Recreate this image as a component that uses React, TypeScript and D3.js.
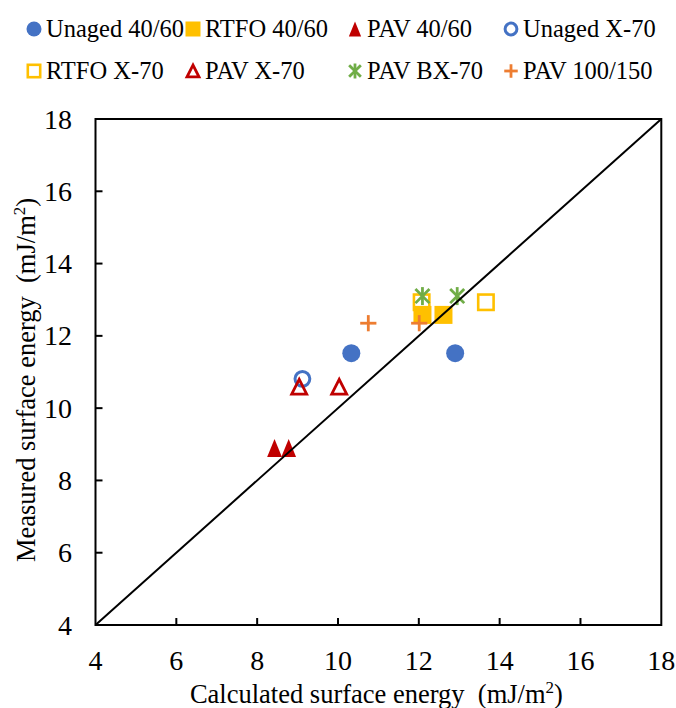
import React from "react";
import * as d3 from "d3";

const seriesNames = [
  "Unaged 40/60",
  "RTFO 40/60",
  "PAV 40/60",
  "Unaged X-70",
  "RTFO X-70",
  "PAV X-70",
  "PAV BX-70",
  "PAV 100/150",
];
const seriesColors = ["#4472C4", "#FFC000", "#C00000", "#4472C4", "#FFC000", "#C00000", "#70AD47", "#ED7D31"];
const seriesShapes = ["circle", "square", "triangle", "ocircle", "osquare", "otriangle", "star", "plus"];

const unaged4060 = [[10.33, 11.52], [12.9, 11.52]];
const rtfo4060 = [[12.09, 12.58], [12.61, 12.58]];
const pav4060 = [[8.43, 8.9], [8.78, 8.9]];
const unagedX70 = [[9.12, 10.81]];
const rtfoX70 = [[12.07, 12.93], [13.66, 12.93]];
const pavX70 = [[9.04, 10.59], [10.03, 10.59]];
const pavBX70 = [[12.09, 13.1], [12.95, 13.1]];
const pav100150 = [[10.75, 12.35], [12.01, 12.35]];
const seriesData = [unaged4060, rtfo4060, pav4060, unagedX70, rtfoX70, pavX70, pavBX70, pav100150];

const xTicks = [4, 6, 8, 10, 12, 14, 16, 18];
const yTicks = [4, 6, 8, 10, 12, 14, 16, 18];
const lineOfEquality = [[4, 4], [18, 18]];

const FONT = "'Times New Roman', 'Liberation Serif', serif";

function Marker({ shape, color, cx, cy, s }: { shape: string; color: string; cx: number; cy: number; s: number }) {
  const h = s / 2;
  switch (shape) {
    case "circle":
      return <circle cx={cx} cy={cy} r={h} fill={color} />;
    case "square":
      return <rect x={cx - h} y={cy - h} width={s} height={s} fill={color} />;
    case "triangle": {
      const w = s * 0.82;
      return <polygon points={`${cx},${cy - h} ${cx - w / 2},${cy + h} ${cx + w / 2},${cy + h}`} fill={color} />;
    }
    case "ocircle":
      return <circle cx={cx} cy={cy} r={h - 1.6} fill="none" stroke={color} strokeWidth={3} />;
    case "osquare":
      return <rect x={cx - h + 1.3} y={cy - h + 1.3} width={s - 2.6} height={s - 2.6} fill="none" stroke={color} strokeWidth={2.6} />;
    case "otriangle": {
      const hh = h - 1.6;
      const w = s - 3;
      return (
        <polygon
          points={`${cx},${cy - hh} ${cx - w / 2},${cy + hh} ${cx + w / 2},${cy + hh}`}
          fill="none"
          stroke={color}
          strokeWidth={2.8}
        />
      );
    }
    case "star": {
      const r = h;
      const d = r * 0.78;
      return (
        <g stroke={color} strokeWidth={2.8}>
          <line x1={cx} y1={cy - r} x2={cx} y2={cy + r} />
          <line x1={cx - d} y1={cy - d} x2={cx + d} y2={cy + d} />
          <line x1={cx - d} y1={cy + d} x2={cx + d} y2={cy - d} />
        </g>
      );
    }
    case "plus": {
      const r = h * 0.9;
      return (
        <g stroke={color} strokeWidth={2.8}>
          <line x1={cx - r} y1={cy} x2={cx + r} y2={cy} />
          <line x1={cx} y1={cy - r} x2={cx} y2={cy + r} />
        </g>
      );
    }
  }
  return null;
}

const legendCols = [
  [34, 46],
  [193, 205],
  [355, 367],
  [511, 523],
];
const legendRows = [29, 71];

export default function App() {
  const left = 95.5, right = 661.3, top = 119, bottom = 625;
  const x = d3.scaleLinear().domain([4, 18]).range([left, right]);
  const y = d3.scaleLinear().domain([4, 18]).range([bottom, top]);
  const lineGen = d3.line<number[]>().x((d) => x(d[0])).y((d) => y(d[1]));

  return (
    <svg width={676} height={708} style={{ position: "absolute", left: 0, top: 0 }} fontFamily={FONT}>
      <rect width={676} height={708} fill="#fff" />
      {/* legend */}
      {seriesNames.map((name, i) => {
        const row = Math.floor(i / 4);
        const col = i % 4;
        const cy = legendRows[row];
        const [mx, tx] = legendCols[col];
        return (
          <g key={name}>
            <Marker shape={seriesShapes[i]} color={seriesColors[i]} cx={mx} cy={cy} s={15} />
            <text x={tx} y={cy + 8} fontSize={24.5} fill="#000">
              {name}
            </text>
          </g>
        );
      })}

      {/* ticks */}
      {xTicks.slice(1, -1).map((t) => (
        <line key={"xt" + t} x1={x(t)} x2={x(t)} y1={bottom} y2={bottom - 7} stroke="#000" strokeWidth={2} />
      ))}
      {yTicks.slice(1, -1).map((t) => (
        <line key={"yt" + t} x1={left} x2={left + 7} y1={y(t)} y2={y(t)} stroke="#000" strokeWidth={2} />
      ))}
      {/* tick labels */}
      {xTicks.map((t) => (
        <text key={"xl" + t} x={x(t)} y={670} textAnchor="middle" fontSize={28} fill="#000">
          {String(t)}
        </text>
      ))}
      {yTicks.map((t) => (
        <text key={"yl" + t} x={72} y={y(t) + 9.5} textAnchor="end" fontSize={28} fill="#000">
          {String(t)}
        </text>
      ))}

      {/* markers */}
      {seriesData.map((pts, i) =>
        pts.map((p, j) => (
          <Marker key={i + "-" + j} shape={seriesShapes[i]} color={seriesColors[i]} cx={x(p[0])} cy={y(p[1])} s={18} />
        ))
      )}

      {/* 1:1 line */}
      <path d={lineGen(lineOfEquality) || ""} stroke="#000" strokeWidth={2} fill="none" />

      {/* frame */}
      <rect x={left} y={top} width={right - left} height={bottom - top} fill="none" stroke="#000" strokeWidth={2} />

      {/* axis titles */}
      <text x={(left + right) / 2 - 2} y={703} textAnchor="middle" fontSize={26.5} fill="#000">
        Calculated surface energy{"\u00A0\u00A0"}(mJ/m
        <tspan fontSize={17} dy={-10}>2</tspan>
        <tspan dy={10}>)</tspan>
      </text>
      <text
        transform={`translate(35,${(top + bottom) / 2 + 8}) rotate(-90)`}
        textAnchor="middle"
        fontSize={26.5}
        fill="#000"
      >
        Measured surface energy{"\u00A0\u00A0"}(mJ/m
        <tspan fontSize={17} dy={-10}>2</tspan>
        <tspan dy={10}>)</tspan>
      </text>
    </svg>
  );
}
